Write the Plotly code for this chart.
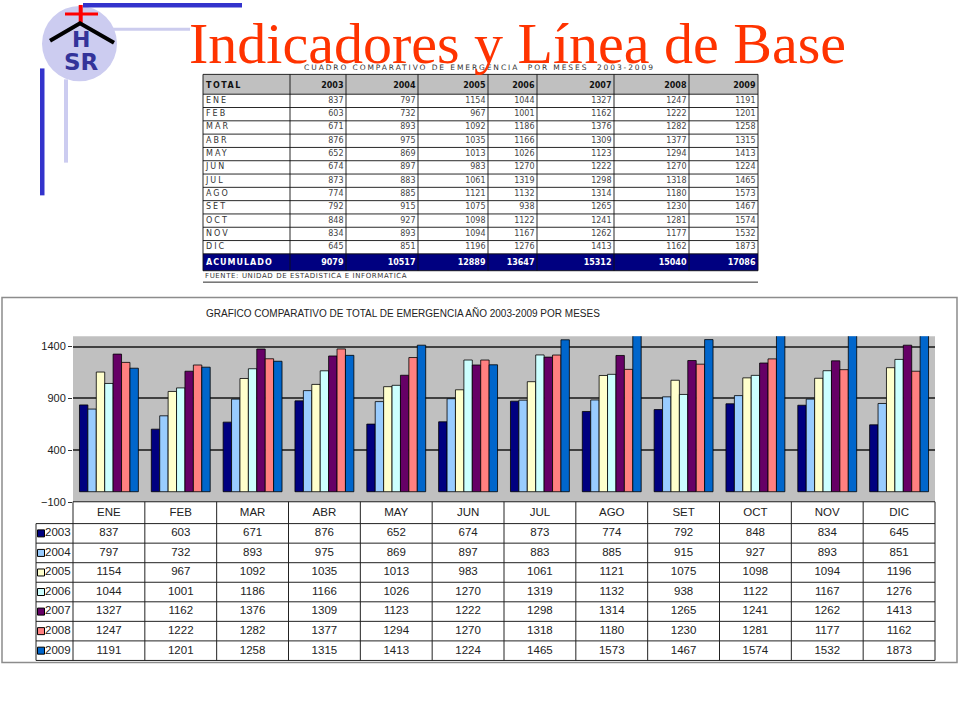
import plotly.graph_objects as go

# ---------------- data ----------------
months = ["ENE", "FEB", "MAR", "ABR", "MAY", "JUN", "JUL", "AGO", "SET", "OCT", "NOV", "DIC"]
years = ["2003", "2004", "2005", "2006", "2007", "2008", "2009"]
v2003 = [837, 603, 671, 876, 652, 674, 873, 774, 792, 848, 834, 645]
v2004 = [797, 732, 893, 975, 869, 897, 883, 885, 915, 927, 893, 851]
v2005 = [1154, 967, 1092, 1035, 1013, 983, 1061, 1121, 1075, 1098, 1094, 1196]
v2006 = [1044, 1001, 1186, 1166, 1026, 1270, 1319, 1132, 938, 1122, 1167, 1276]
v2007 = [1327, 1162, 1376, 1309, 1123, 1222, 1298, 1314, 1265, 1241, 1262, 1413]
v2008 = [1247, 1222, 1282, 1377, 1294, 1270, 1318, 1180, 1230, 1281, 1177, 1162]
v2009 = [1191, 1201, 1258, 1315, 1413, 1224, 1465, 1573, 1467, 1574, 1532, 1873]
series = [v2003, v2004, v2005, v2006, v2007, v2008, v2009]
colors = ["#000080", "#99CCFF", "#FFFFCC", "#CCFFFF", "#660066", "#FF8080", "#0066CC"]
acumulado = [sum(s) for s in series]
yticks = [-100, 400, 900, 1400]
y_range = [-100, 1500]

title_text = "Indicadores y Línea de Base"
chart_title = "GRAFICO COMPARATIVO DE TOTAL DE EMERGENCIA AÑO 2003-2009 POR MESES"
table_caption = "CUADRO COMPARATIVO DE EMERGENCIA  POR MESES  2003-2009"
table_source = "FUENTE: UNIDAD DE ESTADISTICA E INFORMATICA"
total_label = "TOTAL"
acum_label = "ACUMULADO"

# ---------------- layout constants (pixels) ----------------
W, H = 960, 720
def px(x):
    return x / W
def py(y):
    return 1 - y / H

def spaced(t, ls):
    return '<span style="letter-spacing:%spx">%s</span>' % (ls, t)

PLOT_X0, PLOT_X1 = 73, 935
PLOT_Y_TOP, PLOT_Y_BOT = 339, 506.3

T_COLS = [203, 290, 346, 418, 488, 537, 614, 689, 758]
T_HEAD_TOP, T_HEAD_BOT = 75, 95
T_DATA_BOT = 256
T_ACUM_BOT = 273

B_LEFT = 36
B_TOP, B_HEAD_BOT, B_BOT = 506, 528, 666

fig = go.Figure()

# ---------------- bars ----------------
for yr, vals, col in zip(years, series, colors):
    fig.add_trace(go.Bar(
        x=months, y=vals, name=yr, xaxis="x", yaxis="y",
        marker=dict(color=col, line=dict(color="#000000", width=0.8)),
        showlegend=False, hoverinfo="x+y+name",
    ))

def seg_trace(hlines, vlines, color, width):
    xs, ys = [], []
    for (yy, xa, xb) in hlines:
        xs += [xa, xb, None]
        ys += [yy, yy, None]
    for (xx, ya, yb) in vlines:
        xs += [xx, xx, None]
        ys += [ya, yb, None]
    return go.Scatter(x=xs, y=ys, mode="lines", xaxis="x2", yaxis="y2",
                      line=dict(color=color, width=width), hoverinfo="skip",
                      showlegend=False)

def text_trace(xs, ys, texts, pos, size, color, family="DejaVu Sans"):
    return go.Scatter(x=xs, y=ys, text=texts, mode="text", textposition=pos,
                      xaxis="x2", yaxis="y2", hoverinfo="skip", showlegend=False,
                      textfont=dict(family=family, size=size, color=color),
                      cliponaxis=False)

# ---------------- top table ----------------
n_rows = len(months)
row_h = (T_DATA_BOT - T_HEAD_BOT) / n_rows
t_row_edges = [T_HEAD_TOP, T_HEAD_BOT] + [T_HEAD_BOT + row_h * (i + 1) for i in range(n_rows)] + [T_ACUM_BOT]
t_hl = [(e, T_COLS[0], T_COLS[-1]) for e in t_row_edges]
t_hl.append((284.5, T_COLS[0], T_COLS[-1]))
t_vl = [(c, T_HEAD_TOP, T_ACUM_BOT) for c in T_COLS]
fig.add_trace(seg_trace(t_hl, t_vl, "#111111", 0.9))

head_y = (T_HEAD_TOP + T_HEAD_BOT) / 2 + 2
acum_y = (T_DATA_BOT + T_ACUM_BOT) / 2 + 0.5
row_centers = [T_HEAD_BOT + row_h * (i + 0.5) for i in range(n_rows)]
col_rights = [c - 2.5 for c in T_COLS[2:]]

# header
fig.add_trace(text_trace([T_COLS[0] + 3], [head_y], ["<b>" + spaced(total_label, 1.5) + "</b>"], "middle right", 8, "#111111"))
fig.add_trace(text_trace(col_rights, [head_y] * len(years), ["<b>" + y + "</b>" for y in years], "middle left", 8, "#111111"))
# month labels
fig.add_trace(text_trace([T_COLS[0] + 3] * n_rows, row_centers, [spaced(m, 2) for m in months], "middle right", 8, "#333333"))
# values
vx, vy, vt = [], [], []
for j, s in enumerate(series):
    for i, v in enumerate(s):
        vx.append(col_rights[j])
        vy.append(row_centers[i])
        vt.append(str(v))
fig.add_trace(text_trace(vx, vy, vt, "middle left", 8, "#444444"))
# acumulado
fig.add_trace(text_trace([T_COLS[0] + 3], [acum_y], ["<b>" + spaced(acum_label, 1) + "</b>"], "middle right", 8, "#FFFFFF"))
fig.add_trace(text_trace(col_rights, [acum_y] * len(years), ["<b>" + str(a) + "</b>" for a in acumulado], "middle left", 8, "#FFFFFF"))
# caption & source
fig.add_trace(text_trace([(T_COLS[0] + T_COLS[-1]) / 2 - 1], [68.5], [spaced(table_caption, 1.9)], "middle center", 7.5, "#333333"))
fig.add_trace(text_trace([T_COLS[0] + 2], [279], [spaced(table_source, 0.6)], "middle right", 7, "#333333"))

# ---------------- bottom data table ----------------
cw = (PLOT_X1 - PLOT_X0) / len(months)
b_col_edges = [B_LEFT] + [PLOT_X0 + cw * k for k in range(len(months) + 1)]
brh = (B_BOT - B_HEAD_BOT) / len(years)
b_row_edges = [B_TOP, B_HEAD_BOT] + [B_HEAD_BOT + brh * (i + 1) for i in range(len(years))]
b_hl = [(B_TOP, PLOT_X0, PLOT_X1)] + [(e, B_LEFT, PLOT_X1) for e in b_row_edges[1:]]
b_vl = [(B_LEFT, B_HEAD_BOT, B_BOT)] + [(e, B_TOP, B_BOT) for e in b_col_edges[1:]]
fig.add_trace(seg_trace(b_hl, b_vl, "#222222", 1))

m_centers = [PLOT_X0 + cw * (k + 0.5) for k in range(len(months))]
b_row_centers = [B_HEAD_BOT + brh * (i + 0.5) for i in range(len(years))]
fig.add_trace(text_trace(m_centers, [(B_TOP + B_HEAD_BOT) / 2] * len(months), months, "middle center", 11.5, "#222222", "Liberation Sans"))
bx, by, bt = [], [], []
for j, s in enumerate(series):
    for i, v in enumerate(s):
        bx.append(m_centers[i])
        by.append(b_row_centers[j])
        bt.append(str(v))
fig.add_trace(text_trace(bx, by, bt, "middle center", 11.5, "#222222", "Liberation Sans"))
# legend keys
fig.add_trace(go.Scatter(x=[B_LEFT + 5] * len(years), y=b_row_centers, mode="markers",
                         xaxis="x2", yaxis="y2", hoverinfo="skip", showlegend=False,
                         marker=dict(symbol="square", size=7, color=colors,
                                     line=dict(color="#000000", width=1))))
fig.add_trace(text_trace([B_LEFT + 9] * len(years), b_row_centers, years, "middle right", 11.5, "#222222", "Liberation Sans"))

# ---------------- shapes (decoration) ----------------
shapes = [
    # chart outer frame
    dict(type="rect", xref="paper", yref="paper", x0=px(2), x1=px(957), y0=py(668), y1=py(300),
         line=dict(color="#8C8C8C", width=1.5), fillcolor="white", layer="below"),
    # plot area background
    dict(type="rect", xref="x domain", yref="y domain", x0=0, x1=1, y0=0, y1=1,
         line=dict(width=0), fillcolor="#C0C0C0", layer="below"),
    # top table fills
    dict(type="rect", xref="x2", yref="y2", x0=T_COLS[0], x1=T_COLS[-1], y0=T_HEAD_TOP, y1=T_HEAD_BOT,
         line=dict(width=0), fillcolor="#C0C0C0", layer="below"),
    dict(type="rect", xref="x2", yref="y2", x0=T_COLS[0], x1=T_COLS[-1], y0=T_DATA_BOT, y1=T_ACUM_BOT,
         line=dict(width=0), fillcolor="#000080", layer="below"),
    # slide decoration
    dict(type="rect", xref="paper", yref="paper", x0=px(110), x1=px(190), y0=py(31), y1=py(28),
         line=dict(width=0), fillcolor="#CCCCEE", layer="below"),
    dict(type="circle", xref="paper", yref="paper", x0=px(42), x1=px(117), y0=py(82), y1=py(6),
         line=dict(width=0), fillcolor="#CCCCF0"),
    dict(type="rect", xref="paper", yref="paper", x0=px(83), x1=px(242), y0=py(7.5), y1=py(3),
         line=dict(width=0), fillcolor="#3333CC"),
    dict(type="rect", xref="paper", yref="paper", x0=px(40), x1=px(44.5), y0=py(197), y1=py(69),
         line=dict(width=0), fillcolor="#3333CC"),
    dict(type="rect", xref="paper", yref="paper", x0=px(64), x1=px(68), y0=py(164), y1=py(80),
         line=dict(width=0), fillcolor="#CCCCF0"),
    dict(type="rect", xref="paper", yref="paper", x0=px(78.7), x1=px(82.7), y0=py(23), y1=py(5),
         line=dict(width=0), fillcolor="#FF0000"),
    dict(type="rect", xref="paper", yref="paper", x0=px(65), x1=px(98), y0=py(15.7), y1=py(12.7),
         line=dict(width=0), fillcolor="#FF0000"),
    dict(type="path", xref="paper", yref="paper",
         path="M %f,%f L %f,%f L %f,%f" % (px(50), py(41), px(80), py(23.5), px(114), py(43)),
         line=dict(color="#000000", width=4)),
]

annotations = [
    dict(text=title_text, xref="paper", yref="paper", x=px(187), y=py(44), xanchor="left", yanchor="middle",
         showarrow=False, font=dict(family="Liberation Serif", size=58, color="#FF3300")),
    dict(text="<b>H</b>", xref="paper", yref="paper", x=px(81), y=py(40), xanchor="center", yanchor="middle",
         showarrow=False, font=dict(family="DejaVu Sans", size=22, color="#333399")),
    dict(text="<b>SR</b>", xref="paper", yref="paper", x=px(81), y=py(63), xanchor="center", yanchor="middle",
         showarrow=False, font=dict(family="DejaVu Sans", size=23, color="#333399")),
    dict(text=chart_title, xref="paper", yref="paper", x=px(204), y=py(316), xanchor="left", yanchor="middle",
         showarrow=False, font=dict(family="Liberation Sans", size=10, color="#222222")),
]

fig.update_layout(
    width=W, height=H, margin=dict(l=0, r=0, t=0, b=0),
    paper_bgcolor="white", plot_bgcolor="rgba(0,0,0,0)",
    barmode="group", bargap=0.18, bargroupgap=0,
    showlegend=False,
    shapes=shapes, annotations=annotations,
    xaxis=dict(domain=[px(PLOT_X0), px(PLOT_X1)], anchor="y", showticklabels=False, ticks="",
               showgrid=False, zeroline=False, showline=False, fixedrange=True),
    yaxis=dict(domain=[py(PLOT_Y_BOT), py(PLOT_Y_TOP)], anchor="x", range=y_range, tickvals=yticks,
               ticks="outside", ticklen=4, tickcolor="#333333", showgrid=True, gridcolor="#404040",
               gridwidth=1.5, zeroline=False, showline=False, fixedrange=True,
               tickfont=dict(family="Liberation Sans", size=11, color="#222222")),
    xaxis2=dict(domain=[0, 1], anchor="y2", range=[0, W], visible=False, fixedrange=True),
    yaxis2=dict(domain=[0, 1], anchor="x2", range=[H, 0], visible=False, fixedrange=True),
)

fig.write_html("out.html", config={"displayModeBar": False},
               post_script="document.body.style.margin='0px';")
